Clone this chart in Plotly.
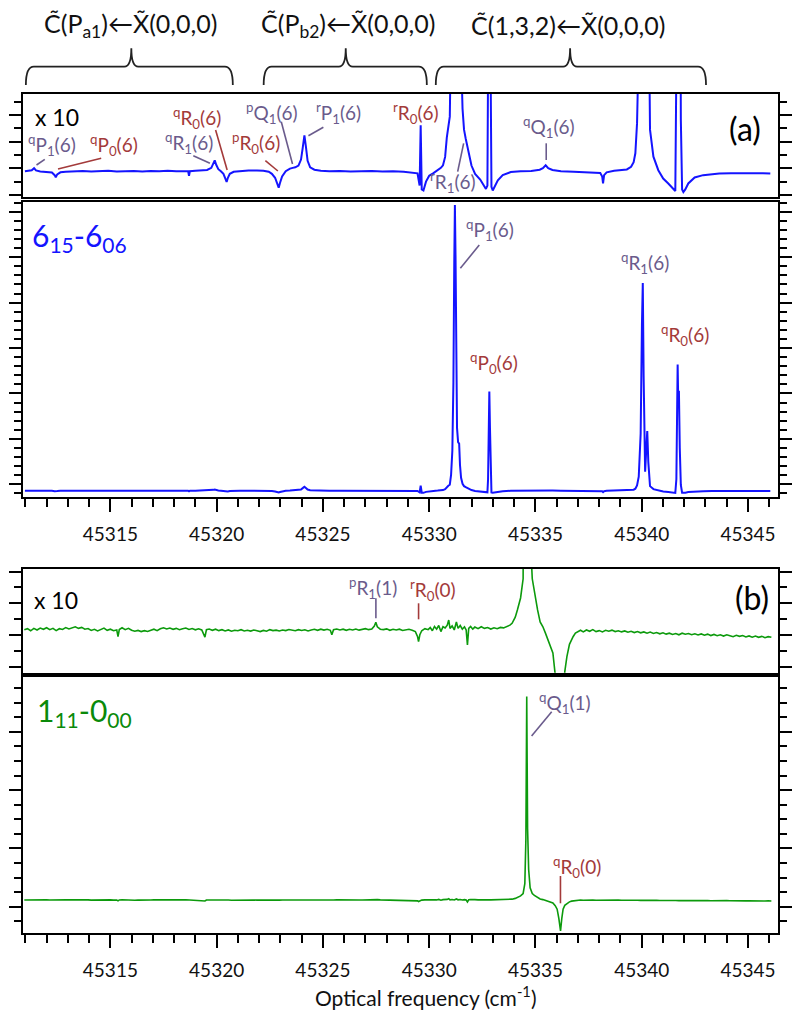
import plotly.graph_objects as go

# ---------------- data ----------------
# Spectrum (a): 6_15 - 6_06, arbitrary units (strongest line = 100)
freq_a = [45310.98, 45311.15, 45311.3, 45311.41, 45311.5, 45311.7, 45312.0, 45312.25, 45312.38, 45312.43,
          45312.5, 45312.65, 45312.9, 45313.3, 45313.7, 45314.1, 45314.5, 45314.9, 45315.3, 45315.7,
          45316.1, 45316.5, 45316.9, 45317.3, 45317.7, 45318.1, 45318.5, 45318.66, 45318.7, 45318.74,
          45319.0, 45319.3, 45319.55, 45319.75, 45319.85, 45319.91, 45319.98, 45320.08, 45320.2, 45320.32,
          45320.42, 45320.47, 45320.53, 45320.62, 45320.8, 45321.1, 45321.5, 45321.9, 45322.2, 45322.45,
          45322.6, 45322.75, 45322.85, 45322.92, 45322.98, 45323.08, 45323.25, 45323.45, 45323.58, 45323.7,
          45323.85, 45323.97, 45324.05, 45324.13, 45324.2, 45324.28, 45324.4, 45324.6, 45324.9, 45325.3,
          45325.8, 45326.3, 45326.8, 45327.3, 45327.8, 45328.3, 45328.8, 45329.2, 45329.45, 45329.55,
          45329.6, 45329.65, 45329.73, 45329.85, 45330.0, 45330.2, 45330.4, 45330.55, 45330.65, 45330.75,
          45330.83, 45330.9, 45330.97, 45331.03, 45331.09, 45331.14, 45331.18, 45331.21, 45331.24, 45331.27,
          45331.31, 45331.36, 45331.41, 45331.45, 45331.5, 45331.57, 45331.64, 45331.72, 45331.85, 45331.99,
          45332.16, 45332.4, 45332.55, 45332.67, 45332.74, 45332.77, 45332.8, 45332.83, 45332.86, 45332.89,
          45332.93, 45332.99, 45333.1, 45333.23, 45333.46, 45333.84, 45334.3, 45334.8, 45335.2, 45335.35,
          45335.48, 45335.6, 45335.8, 45336.2, 45336.8, 45337.5, 45338.05, 45338.14, 45338.18, 45338.23,
          45338.35, 45338.7, 45339.0, 45339.3, 45339.5, 45339.62, 45339.7, 45339.78, 45339.86, 45339.95,
          45340.01, 45340.05, 45340.09, 45340.16, 45340.21, 45340.26, 45340.31, 45340.35, 45340.39, 45340.55,
          45340.78, 45341.01, 45341.25, 45341.48, 45341.58, 45341.63, 45341.66, 45341.69, 45341.72, 45341.75,
          45341.79, 45341.84, 45341.9, 45341.96, 45342.05, 45342.19, 45342.49, 45342.89, 45343.3, 45343.65,
          45344.2, 45344.8, 45345.2, 45345.7, 45346.05]
signal_a = [0.0, 0.02, 0.04, 0.12, 0.03, -0.01, -0.02, -0.05, -0.15, -0.23,
            -0.12, -0.04, -0.02, -0.01, 0.01, -0.01, 0.0, 0.02, -0.01, 0.0,
            0.01, -0.01, 0.01, 0.0, 0.02, 0.0, 0.01, 0.0, -0.18, 0.0,
            0.02, 0.03, 0.05, 0.13, 0.3, 0.42, 0.25, 0.08, 0.0, -0.1,
            -0.3, -0.41, -0.25, -0.1, -0.02, 0.01, 0.03, 0.03, 0.02, -0.02,
            -0.1, -0.25, -0.45, -0.63, -0.45, -0.2, 0.0, 0.1, 0.13, 0.15,
            0.22, 0.45, 0.9, 1.38, 0.95, 0.4, 0.15, 0.06, 0.02, 0.0,
            0.01, -0.01, 0.0, 0.01, -0.01, 0.0, -0.02, -0.04, -0.08, -0.55,
            1.77, -0.7, -0.74, -0.4, -0.17, -0.07, 0.04, 0.13, 0.23, 0.55,
            1.3, 1.75, 2.1, 5.5, 14, 38, 80, 100, 82, 45,
            22, 17, 16.5, 9, 4.5, 2.4, 1.6, 1.25, 0.72, 0.22,
            -0.1, -0.32, -0.52, -0.68, -0.55, 4, 22, 34.7, 22, 4,
            -0.6, -0.74, -0.55, -0.35, -0.15, -0.03, 0.0, 0.01, 0.06, 0.12,
            0.23, 0.12, 0.05, 0.0, -0.02, -0.06, -0.07, -0.2, -0.47, -0.15,
            -0.04, 0.02, 0.04, 0.07, 0.17, 0.35, 0.69, 1.85, 4.9, 20,
            58, 72.7, 40, 6.65, 14, 20.9, 10, 4.9, 1.6, 0.56,
            0.04, -0.28, -0.47, -0.7, -0.76, 4, 30, 44.2, 30, 35,
            15, 2, -0.7, -0.8, -0.7, -0.47, -0.24, -0.15, -0.11, -0.09,
            -0.08, -0.07, -0.07, -0.08, -0.09]

# Spectrum (b): 1_11 - 0_00, arbitrary units (strongest line = 100)
freq_b = [45310.95, 45311.1, 45311.25, 45311.4, 45311.55, 45311.7, 45311.85, 45312.0, 45312.15, 45312.3,
          45312.45, 45312.6, 45312.75, 45312.9, 45313.05, 45313.2, 45313.35, 45313.5, 45313.65, 45313.8,
          45313.95, 45314.1, 45314.25, 45314.4, 45314.55, 45314.7, 45314.85, 45315.0, 45315.15, 45315.3,
          45315.36, 45315.42, 45315.55, 45315.7, 45315.85, 45316.0, 45316.15, 45316.3, 45316.45, 45316.6,
          45316.75, 45316.9, 45317.05, 45317.2, 45317.35, 45317.5, 45317.65, 45317.8, 45317.95, 45318.1,
          45318.25, 45318.4, 45318.55, 45318.7, 45318.85, 45319.0, 45319.15, 45319.3, 45319.45, 45319.52,
          45319.65, 45319.8, 45319.95, 45320.1, 45320.25, 45320.4, 45320.55, 45320.7, 45320.85, 45321.0,
          45321.15, 45321.3, 45321.45, 45321.6, 45321.75, 45321.9, 45322.05, 45322.2, 45322.35, 45322.5,
          45322.65, 45322.8, 45322.95, 45323.1, 45323.25, 45323.4, 45323.55, 45323.7, 45323.85, 45324.0,
          45324.15, 45324.3, 45324.45, 45324.6, 45324.75, 45324.9, 45325.05, 45325.2, 45325.35, 45325.42,
          45325.5, 45325.65, 45325.8, 45325.95, 45326.1, 45326.25, 45326.4, 45326.55, 45326.7, 45326.85,
          45327.0, 45327.15, 45327.3, 45327.42, 45327.49, 45327.56, 45327.7, 45327.85, 45328.0, 45328.15,
          45328.3, 45328.45, 45328.6, 45328.75, 45328.9, 45329.05, 45329.2, 45329.35, 45329.45, 45329.5,
          45329.56, 45329.65, 45329.8, 45329.95, 45330.05, 45330.15, 45330.25, 45330.35, 45330.45, 45330.55,
          45330.65, 45330.75, 45330.85, 45330.92, 45330.98, 45331.08, 45331.18, 45331.28, 45331.36, 45331.46,
          45331.56, 45331.66, 45331.74, 45331.8, 45331.86, 45331.95, 45332.05, 45332.15, 45332.3, 45332.45,
          45332.6, 45332.75, 45332.9, 45333.05, 45333.2, 45333.35, 45333.5, 45333.65, 45333.8, 45333.9,
          45334.05, 45334.15, 45334.3, 45334.42, 45334.5, 45334.55, 45334.59, 45334.63, 45334.68, 45334.75,
          45334.85, 45334.95, 45335.1, 45335.22, 45335.35, 45335.47, 45335.58, 45335.7, 45335.82, 45335.93,
          45336.02, 45336.1, 45336.18, 45336.24, 45336.3, 45336.38, 45336.48, 45336.6, 45336.7, 45336.77,
          45336.88, 45337.0, 45337.12, 45337.25, 45337.4, 45337.55, 45337.7, 45337.85, 45338.0, 45338.15,
          45338.3, 45338.45, 45338.6, 45338.75, 45338.9, 45339.05, 45339.2, 45339.35, 45339.5, 45339.65,
          45339.8, 45339.95, 45340.1, 45340.25, 45340.4, 45340.55, 45340.7, 45340.85, 45341.0, 45341.15,
          45341.3, 45341.45, 45341.6, 45341.75, 45341.9, 45342.05, 45342.2, 45342.35, 45342.5, 45342.65,
          45342.8, 45342.95, 45343.1, 45343.25, 45343.4, 45343.55, 45343.7, 45343.85, 45344.0, 45344.15,
          45344.3, 45344.45, 45344.6, 45344.75, 45344.9, 45345.05, 45345.2, 45345.35, 45345.5, 45345.65,
          45345.8, 45345.95, 45346.1]
signal_b = [0.02, 0.08, -0.05, 0.1, 0.0, 0.12, 0.04, 0.14, 0.02, 0.1,
            -0.04, 0.08, 0.03, 0.15, 0.06, 0.12, 0.2, 0.1, 0.16, 0.05,
            0.09, -0.03, 0.04, -0.06, 0.02, 0.12, -0.02, 0.05, -0.05, 0.0,
            -0.42, 0.03, 0.14, 0.02, 0.1, -0.02, -0.08, -0.03, -0.1, -0.04,
            -0.09, 0.0, 0.05, -0.04, 0.08, 0.14, 0.06, 0.12, 0.04, 0.1,
            0.02, 0.08, 0.12, 0.03, 0.09, 0.01, 0.07, 0.0, -0.45, 0.02,
            0.06, -0.02, 0.05, -0.04, 0.02, -0.06, 0.0, -0.08, -0.02, -0.05,
            0.02, -0.06, -0.02, -0.07, 0.0, -0.05, -0.1, -0.03, -0.08, 0.02,
            -0.04, -0.01, -0.06, 0.0, -0.04, 0.03, -0.02, -0.05, 0.02, -0.03,
            0.01, -0.06, 0.0, 0.04, -0.02, 0.05, -0.01, 0.04, -0.02, -0.3,
            0.02, 0.06, 0.0, 0.05, -0.02, 0.04, 0.0, 0.06, -0.01, 0.03,
            0.08, 0.02, 0.06, 0.25, 0.48, 0.2, 0.05, 0.02, 0.07, -0.02,
            0.04, 0.0, 0.05, -0.03, 0.02, 0.04, -0.02, -0.1, -0.4, -0.73,
            -0.3, -0.05, 0.08, 0.02, 0.15, -0.05, 0.22, 0.05, 0.28, -0.1,
            0.2, 0.12, 0.3, 0.62, 0.1, 0.25, 0.0, 0.5, 0.1, 0.28,
            0.05, 0.2, 0.0, -0.94, 0.1, 0.22, 0.05, 0.18, 0.08, 0.2,
            0.1, 0.15, 0.06, 0.14, 0.08, 0.16, 0.13, 0.2, 0.3, 0.42,
            0.8, 1.25, 2.0, 3.2, 8, 30, 100, 35, 15, 6,
            3.2, 2.3, 1.25, 0.5, 0.2, -0.2, -0.63, -1.0, -1.44, -2.8,
            -4.5, -9, -15.2, -9, -4.5, -2.6, -1.67, -0.9, -0.55, -0.42,
            -0.2, -0.11, -0.02, -0.12, 0.0, -0.08, 0.02, -0.1, -0.04, -0.12,
            -0.02, -0.08, -0.01, -0.1, -0.05, -0.12, -0.06, -0.14, -0.08, -0.16,
            -0.1, -0.18, -0.12, -0.2, -0.13, -0.22, -0.16, -0.24, -0.18, -0.26,
            -0.2, -0.28, -0.22, -0.3, -0.2, -0.27, -0.22, -0.3, -0.24, -0.31,
            -0.25, -0.33, -0.26, -0.35, -0.28, -0.36, -0.3, -0.38, -0.3, -0.36,
            -0.42, -0.33, -0.4, -0.35, -0.44, -0.37, -0.45, -0.38, -0.46, -0.4,
            -0.48, -0.42, -0.46]

magnification = 10
x_ticks = [45315, 45320, 45325, 45330, 45335, 45340, 45345]
x_tick_labels = [str(v) for v in x_ticks]

# ---------------- styling ----------------
W, H = 792, 1010
BLUE = "#1414ff"
GREEN = "#0c9a0c"
GREEN_TXT = "#0a8a0a"
PURPLE = "#6a5b8c"
RED = "#a33a3a"
FONT = "Lato"


def px(x):
    return x / W


def py(y):
    return 1 - y / H


XR = [45310.87, 45346.4]
XDOM = [px(22.7), px(781.7)]

fig = go.Figure()
fig.add_trace(go.Scatter(x=freq_a, y=[v * magnification for v in signal_a], xaxis="x", yaxis="y",
                         mode="lines", line=dict(color=BLUE, width=2), hoverinfo="skip"))
fig.add_trace(go.Scatter(x=freq_a, y=signal_a, xaxis="x2", yaxis="y2",
                         mode="lines", line=dict(color=BLUE, width=2), hoverinfo="skip"))
fig.add_trace(go.Scatter(x=freq_b, y=[v * magnification for v in signal_b], xaxis="x3", yaxis="y3",
                         mode="lines", line=dict(color=GREEN, width=1.6), hoverinfo="skip"))
fig.add_trace(go.Scatter(x=freq_b, y=signal_b, xaxis="x4", yaxis="y4",
                         mode="lines", line=dict(color=GREEN, width=1.6), hoverinfo="skip"))


def xaxis(anchor, labels):
    d = dict(domain=XDOM, range=XR, anchor=anchor, showline=True, linecolor="black", linewidth=2,
             mirror=True, showgrid=False, zeroline=False, fixedrange=True)
    if labels:
        d.update(ticks="outside", ticklen=13, tickwidth=2, tickcolor="black",
                 tickmode="array", tickvals=x_ticks, ticktext=x_tick_labels,
                 showticklabels=True, ticklabelstandoff=6,
                 tickfont=dict(family=FONT, size=19, color="#111"),
                 minor=dict(ticks="outside", ticklen=8, tickwidth=2, tickcolor="black", dtick=1, tick0=45311))
    else:
        d.update(ticks="", showticklabels=False)
    return d


def yaxis(anchor, dom_px, rng, tick0, dtick, mdtick):
    return dict(domain=[py(dom_px[1]), py(dom_px[0])], range=rng, anchor=anchor,
                showline=True, linecolor="black", linewidth=2, mirror="ticks",
                ticks="outside", ticklen=12, tickwidth=2, tickcolor="black",
                tickmode="linear", tick0=tick0, dtick=dtick,
                minor=dict(ticks="outside", ticklen=7, tickwidth=2, tickcolor="black",
                           tick0=tick0, dtick=mdtick),
                showticklabels=False, showgrid=False, zeroline=False, fixedrange=True)


fig.update_layout(
    width=W, height=H, margin=dict(l=0, r=0, t=0, b=0),
    paper_bgcolor="white", plot_bgcolor="white", showlegend=False,
    font=dict(family=FONT),
    xaxis=xaxis("y", False),
    xaxis2=xaxis("y2", True),
    xaxis3=xaxis("y3", False),
    xaxis4=xaxis("y4", True),
    yaxis=yaxis("x", (94, 197), [-9.9, 29.7], 1.15, 10.2, 5.1),
    yaxis2=yaxis("x2", (202, 497), [-2.2, 101.05], 2.24, 15.9, 3.18),
    yaxis3=yaxis("x3", (569, 672.7), [-26.7, 38.1], -3.1, 19.8, 9.9),
    yaxis4=yaxis("x4", (676.7, 933), [-16.2, 109.7], -3.3, 28.65, 7.16),
)

# ---------------- annotations ----------------
LBL = 19
annots = [
    # (text, x_px, y_px, color, size)
    ("x 10", 57, 117, "black", 23),
    ("<sup>q</sup>P<sub>1</sub>(6)", 52, 145, PURPLE, LBL),
    ("<sup>q</sup>P<sub>0</sub>(6)", 115, 145, RED, LBL),
    ("<sup>q</sup>R<sub>1</sub>(6)", 190, 143, PURPLE, LBL),
    ("<sup>q</sup>R<sub>0</sub>(6)", 198, 118, RED, LBL),
    ("<sup>p</sup>R<sub>0</sub>(6)", 257, 143, RED, LBL),
    ("<sup>p</sup>Q<sub>1</sub>(6)", 273, 113, PURPLE, LBL),
    ("<sup>r</sup>P<sub>1</sub>(6)", 340, 113, PURPLE, LBL),
    ("<sup>r</sup>R<sub>0</sub>(6)", 418, 113, RED, LBL),
    ("<sup>r</sup>R<sub>1</sub>(6)", 455, 182, PURPLE, LBL),
    ("<sup>q</sup>Q<sub>1</sub>(6)", 552, 127, PURPLE, LBL),
    ("(a)", 749, 128, "black", 32),
    ("6<sub>15</sub>-6<sub>06</sub>", 80, 237, BLUE, 30),
    ("<sup>q</sup>P<sub>1</sub>(6)", 492, 230, PURPLE, LBL),
    ("<sup>q</sup>P<sub>0</sub>(6)", 497, 363, RED, LBL),
    ("<sup>q</sup>R<sub>1</sub>(6)", 648, 263, PURPLE, LBL),
    ("<sup>q</sup>R<sub>0</sub>(6)", 688, 335, RED, LBL),
    ("x 10", 56, 600, "black", 23),
    ("<sup>p</sup>R<sub>1</sub>(1)", 375, 588, PURPLE, LBL),
    ("<sup>r</sup>R<sub>0</sub>(0)", 435, 590, RED, LBL),
    ("(b)", 756, 597, "black", 32),
    ("1<sub>11</sub>-0<sub>00</sub>", 85, 712, GREEN_TXT, 30),
    ("<sup>q</sup>Q<sub>1</sub>(1)", 568, 703, PURPLE, LBL),
    ("<sup>q</sup>R<sub>0</sub>(0)", 580, 867, RED, LBL),
    ("C\u0303(P<sub>a1</sub>)\u2190X\u0303(0,0,0)", 131, 25, "#111", 25),
    ("C\u0303(P<sub>b2</sub>)\u2190X\u0303(0,0,0)", 350, 25, "#111", 25),
    ("C\u0303(1,3,2)\u2190X\u0303(0,0,0)", 571, 25, "#111", 25),
    ("Optical frequency (cm<sup>-1</sup>)", 428, 996, "#111", 21),
]
for text, x, y, col, size in annots:
    fig.add_annotation(text=text, x=px(x), y=py(y), xref="paper", yref="paper",
                       showarrow=False, xanchor="center", yanchor="middle",
                       font=dict(family=FONT, size=size, color=col))

# leader lines (pixel coordinates)
leaders = [
    ((36.7, 165), (45, 159.3), PURPLE),
    ((58.3, 169), (101.7, 158.3), RED),
    ((194.3, 155.7), (211, 163.3), PURPLE),
    ((216.7, 130), (228.3, 170), RED),
    ((266.7, 160.7), (279.3, 171), RED),
    ((282.7, 121.7), (294, 164), PURPLE),
    ((325, 127.3), (310, 135.7), PURPLE),
    ((460, 171.7), (466, 143.3), PURPLE),
    ((549, 143.3), (549, 160), PURPLE),
    ((481.7, 245), (462.7, 268.3), PURPLE),
    ((377.8, 598.3), (377.8, 618.3), PURPLE),
    ((420.7, 603.3), (420.7, 619.3), RED),
    ((554.5, 711.7), (534.3, 736), PURPLE),
    ((563.3, 876), (563.3, 903.3), RED),
]
for (x0, y0), (x1, y1), col in leaders:
    fig.add_shape(type="line", xref="paper", yref="paper", x0=px(x0), y0=py(y0), x1=px(x1), y1=py(y1),
                  line=dict(color=col, width=1.6))

# curly braces over the bands (pixel coordinates)
braces = [(26, 132, 234), (265, 347.5, 429), (438, 573, 709.6)]
YL, YE, YT = 66.7, 85, 48.3
for xl, xc, xr in braces:
    pts = (f"M {px(xl)},{py(YE)} Q {px(xl)},{py(YL)} {px(xl + 8)},{py(YL)} "
           f"L {px(xc - 7)},{py(YL)} Q {px(xc)},{py(YL)} {px(xc)},{py(YT)} "
           f"Q {px(xc)},{py(YL)} {px(xc + 7)},{py(YL)} "
           f"L {px(xr - 8)},{py(YL)} Q {px(xr)},{py(YL)} {px(xr)},{py(YE)}")
    fig.add_shape(type="path", xref="paper", yref="paper", path=pts,
                  line=dict(color="#222", width=1.8))

fig.write_html("out.html", config={"displayModeBar": False},
               post_script="document.body.style.margin='0px';")
